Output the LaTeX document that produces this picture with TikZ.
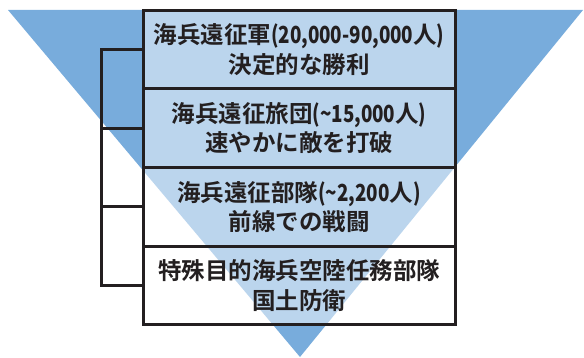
\documentclass[tikz,border=0pt]{standalone}
\usepackage{fontspec}
\setmainfont{Noto Sans CJK JP}[BoldFont={Noto Sans CJK JP Bold}]
\newfontfamily\narrowlat{Noto Sans CJK JP Bold}[FakeStretch=0.8]
\usepackage{tikz}
\definecolor{triblue}{HTML}{78ACDC}
\definecolor{ink}{HTML}{231F20}
\newcommand{\nlat}[1]{{\narrowlat #1}}
\tikzset{
  tier/.style={draw=ink, line width=3pt, fill=white, fill opacity=0.5,
    text opacity=1, text=ink, minimum width=312pt, minimum height=78.75pt,
    inner sep=0pt, align=center, font=\fontsize{23.5}{29.5}\selectfont\bfseries},
  link/.style={draw=ink, line width=3pt}
}

\begin{document}
\begin{tikzpicture}[x=1pt,y=-1pt]
\useasboundingbox (0,0) rectangle (584,358);
\fill[triblue] (8,10) -- (583,10) -- (300,357) -- cycle;
\node[tier] (mef) at (299,49.4) {海兵遠征軍\nlat{(20,000-90,000}人\nlat{)}\\決定的な勝利};
\node[tier] (meb) at (299,128.1) {海兵遠征旅団\nlat{(\textasciitilde15,000}人\nlat{)}\\速やかに敵を打破};
\node[tier] (meu) at (299,206.9) {海兵遠征部隊\nlat{(\textasciitilde2,200}人\nlat{)}\\前線での戦闘};
\node[tier] (spmagtf) at (299,285.6) {特殊目的海兵空陸任務部隊\\国土防衛};
\draw[link] (mef.west) -- ++(-40,0) |- (meb.west);
\draw[link] (meb.west) -- ++(-40,0) |- (meu.west);
\draw[link] (meu.west) -- ++(-40,0) |- (spmagtf.west);
\end{tikzpicture}
\end{document}
